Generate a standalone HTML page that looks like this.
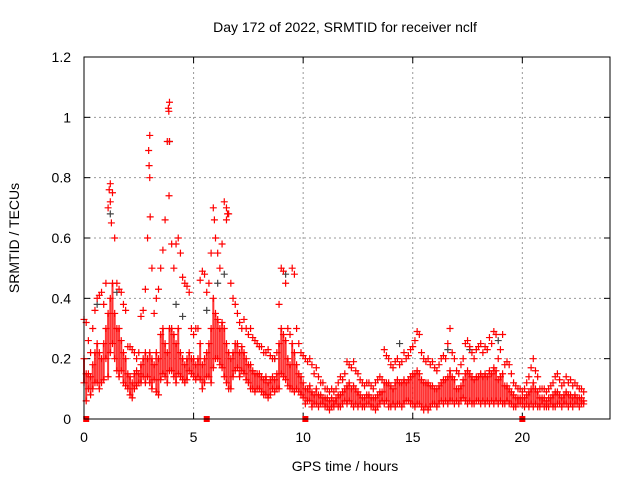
<!DOCTYPE html>
<html><head><meta charset="utf-8"><style>
html,body{margin:0;padding:0;background:#fff;}
svg{display:block;font-family:"Liberation Sans",sans-serif;}
</style></head><body>
<svg id="chart" width="640" height="480" viewBox="0 0 640 480" xmlns="http://www.w3.org/2000/svg">
<rect x="0" y="0" width="640" height="480" fill="#fff"/>
<text x="345" y="32" font-size="14" text-anchor="middle">Day 172 of 2022, SRMTID for receiver nclf</text>
<text transform="translate(19,238) rotate(-90)" font-size="14" text-anchor="middle">SRMTID / TECUs</text>
<text x="345" y="471" font-size="14" text-anchor="middle">GPS time / hours</text>
<g id="grid"></g>
<g id="ticks"></g>
<g id="marks"></g>
<rect x="84" y="57" width="526" height="362" fill="none" stroke="#000" stroke-width="1"/>
</svg>
<script>
const xTicks=[0,5,10,15,20];
const xTickLabels=["0","5","10","15","20"];
const yTicks=[0,0.2,0.4,0.6,0.8,1,1.2];
const yTickLabels=["0","0.2","0.4","0.6","0.8","1","1.2"];
const timeStep=0.1;
const hiVals=[.33,.32,.26,.22,.3,.36,.4,.41,.42,.38,
.45,.7,.78,.75,.6,.45,.43,.42,.38,.36,
.24,.24,.23,.22,.2,.22,.34,.36,.43,.6,
.94,.5,.35,.4,.43,.5,.56,.66,.92,1.05,
.58,.5,.58,.6,.55,.47,.45,.44,.42,.3,
.28,.3,.3,.46,.49,.48,.42,.45,.55,.7,
.6,.55,.5,.58,.72,.7,.68,.45,.4,.38,
.35,.32,.3,.33,.3,.28,.3,.27,.26,.25,
.24,.24,.22,.22,.23,.21,.2,.2,.22,.38,
.5,.49,.45,.3,.28,.5,.48,.3,.25,.22,
.21,.2,.19,.2,.18,.15,.17,.14,.12,.12,
.1,.1,.09,.1,.09,.1,.12,.14,.13,.15,
.19,.18,.17,.19,.16,.15,.13,.12,.11,.12,
.12,.11,.1,.12,.13,.14,.13,.23,.21,.2,
.18,.17,.19,.2,.18,.19,.22,.2,.21,.23,
.24,.26,.29,.28,.22,.2,.19,.2,.18,.19,
.17,.16,.18,.2,.21,.2,.25,.3,.22,.2,
.16,.15,.18,.2,.25,.26,.24,.22,.2,.23,
.24,.25,.22,.24,.23,.27,.25,.29,.28,.2,
.23,.28,.18,.19,.18,.15,.12,.11,.1,.1,
.09,.1,.12,.14,.17,.2,.16,.14,.1,.1,
.1,.09,.1,.11,.12,.14,.15,.13,.11,.12,
.14,.12,.13,.11,.12,.11,.1,.1,.09];
const midVals=[.2,.15,.15,.14,.18,.22,.25,.22,.2,.25,
.3,.35,.4,.45,.35,.3,.3,.26,.22,.2,
.15,.14,.12,.15,.16,.15,.18,.2,.22,.2,
.22,.2,.18,.22,.2,.28,.3,.25,.22,.3,
.3,.28,.25,.3,.22,.2,.18,.2,.22,.2,
.2,.18,.2,.25,.18,.2,.22,.25,.3,.4,
.35,.33,.3,.32,.3,.25,.22,.2,.22,.25,
.25,.22,.24,.22,.2,.18,.18,.16,.15,.15,
.15,.14,.13,.14,.12,.13,.14,.13,.15,.25,
.3,.28,.26,.2,.18,.25,.22,.18,.15,.14,
.12,.1,.1,.11,.09,.08,.1,.08,.08,.07,
.07,.07,.06,.07,.06,.07,.08,.08,.09,.1,
.11,.12,.1,.11,.1,.09,.08,.07,.07,.08,
.08,.07,.07,.07,.08,.09,.09,.12,.12,.12,
.11,.1,.12,.13,.12,.12,.13,.12,.13,.14,
.15,.15,.16,.15,.13,.12,.12,.12,.11,.11,
.1,.1,.11,.12,.13,.13,.14,.16,.14,.13,
.1,.1,.11,.13,.15,.16,.15,.14,.13,.14,
.14,.15,.14,.15,.14,.16,.15,.17,.16,.13,
.14,.15,.11,.11,.1,.09,.08,.07,.07,.07,
.07,.07,.08,.09,.1,.12,.1,.09,.07,.07,
.07,.06,.07,.07,.08,.09,.09,.08,.07,.08,
.09,.08,.08,.07,.08,.07,.07,.07,.06];
const loVals=[.12,.06,.1,.08,.1,.12,.12,.1,.12,.13,
.2,.14,.22,.25,.2,.16,.14,.16,.12,.11,
.1,.08,.07,.1,.11,.12,.12,.14,.12,.14,
.12,.1,.13,.09,.08,.13,.15,.14,.12,.16,
.16,.14,.12,.15,.14,.13,.12,.13,.16,.15,
.14,.13,.14,.13,.1,.12,.14,.14,.12,.17,
.2,.2,.18,.17,.14,.12,.1,.1,.14,.16,
.17,.14,.16,.15,.13,.12,.1,.1,.09,.1,
.1,.09,.08,.08,.07,.08,.1,.09,.1,.1,
.15,.14,.13,.11,.1,.1,.09,.1,.09,.08,
.07,.05,.06,.06,.04,.05,.05,.04,.05,.05,
.04,.04,.03,.04,.04,.05,.04,.04,.05,.06,
.05,.06,.05,.04,.05,.04,.05,.04,.04,.05,
.05,.04,.04,.03,.04,.05,.06,.05,.06,.04,
.04,.05,.04,.05,.05,.04,.05,.06,.06,.05,
.05,.04,.05,.05,.04,.03,.04,.03,.04,.05,
.05,.04,.05,.06,.05,.06,.05,.06,.06,.05,
.06,.05,.06,.07,.06,.05,.06,.05,.05,.06,
.06,.05,.06,.05,.06,.05,.06,.05,.06,.05,
.06,.05,.05,.06,.05,.05,.04,.04,.05,.05,
.05,.04,.05,.04,.05,.04,.05,.04,.04,.05,
.04,.04,.04,.05,.04,.04,.05,.05,.04,.05,
.05,.04,.05,.04,.05,.05,.04,.05,.05];
const spikeTimes=[1.15,1.2,1.25,2.95,2.97,3.0,3.02,3.85,3.87,3.9,3.88,5.95,6.5,6.55];
const spikeVals=[0.76,0.72,0.65,0.89,0.84,0.8,0.67,1.03,1.02,0.92,0.74,0.66,0.66,0.68];
const grayTimes=[0.6,1.2,1.5,3.9,4.2,4.5,5.6,6.1,6.4,8.7,9.2,14.4,16.6,17.6,18.9];
const grayVals=[0.38,0.68,0.42,0.92,0.38,0.34,0.36,0.45,0.48,0.2,0.48,0.25,0.23,0.23,0.26];
const zeroTimes=[0.1,5.6,10.1,20.0];

const X0=84,X1=610,Y0=419,Y1=57,XMAX=24,YMAX=1.2;
const xs=t=>X0+(X1-X0)*t/XMAX;
const ys=v=>Y0-(Y0-Y1)*v/YMAX;
const NS="http://www.w3.org/2000/svg";
function mk(tag,attrs,parent){const e=document.createElementNS(NS,tag);for(const k in attrs)e.setAttribute(k,attrs[k]);parent.appendChild(e);return e;}
const grid=document.getElementById('grid'),ticks=document.getElementById('ticks'),marks=document.getElementById('marks');
xTicks.forEach((t,i)=>{const x=xs(t);
 if(t>0){const g=mk('line',{x1:x,y1:Y1,x2:x,y2:Y0,stroke:'#999','stroke-dasharray':'2,3','stroke-width':1},grid);
 
 }
 mk('line',{x1:x,y1:Y0,x2:x,y2:Y0-6,stroke:'#000'},ticks);
 mk('line',{x1:x,y1:Y1,x2:x,y2:Y1+6,stroke:'#000'},ticks);
 const l=mk('text',{x:x,y:Y0+23,'font-size':14,'text-anchor':'middle'},ticks);l.textContent=xTickLabels[i];
 
 
});
yTicks.forEach((v,i)=>{const y=ys(v);
 if(v>0&&v<YMAX){const g=mk('line',{x1:X0,y1:y,x2:X1,y2:y,stroke:'#999','stroke-dasharray':'2,3','stroke-width':1},grid);
 
 }
 mk('line',{x1:X0,y1:y,x2:X0+6,y2:y,stroke:'#000'},ticks);
 mk('line',{x1:X1,y1:y,x2:X1-6,y2:y,stroke:'#000'},ticks);
 const l=mk('text',{x:X0-13,y:y+5,'font-size':14,'text-anchor':'end'},ticks);l.textContent=yTickLabels[i];
 
 
});
function plus(t,v,col,name){const x=xs(t),y=ys(v);
 const p=mk('path',{d:`M${x-3.5},${y}H${x+3.5}M${x},${y-3.5}V${y+3.5}`,stroke:col,'stroke-width':1.2,fill:'none'},marks);
 
 }
// dense core: range bars from lo to mid per time step
midVals.forEach((v,i)=>{const x=xs(i*timeStep);
 const r=mk('line',{x1:x,y1:ys(loVals[i]),x2:x,y2:ys(v),stroke:'#f00','stroke-width':2,'stroke-opacity':0.8},marks);
 
 });
grayTimes.forEach((t,i)=>plus(t,grayVals[i],'#444','gray-point'));
[hiVals,midVals,loVals].forEach(arr=>arr.forEach((v,i)=>plus(i*timeStep,v,'#f00','srmtid-point')));
spikeTimes.forEach((t,i)=>plus(t,spikeVals[i],'#f00','spike-point'));
zeroTimes.forEach(t=>{const r=mk('rect',{x:xs(t)-3,y:Y0-3,width:6,height:6,fill:'#f00'},marks);
 
 });
</script>
</body></html>
